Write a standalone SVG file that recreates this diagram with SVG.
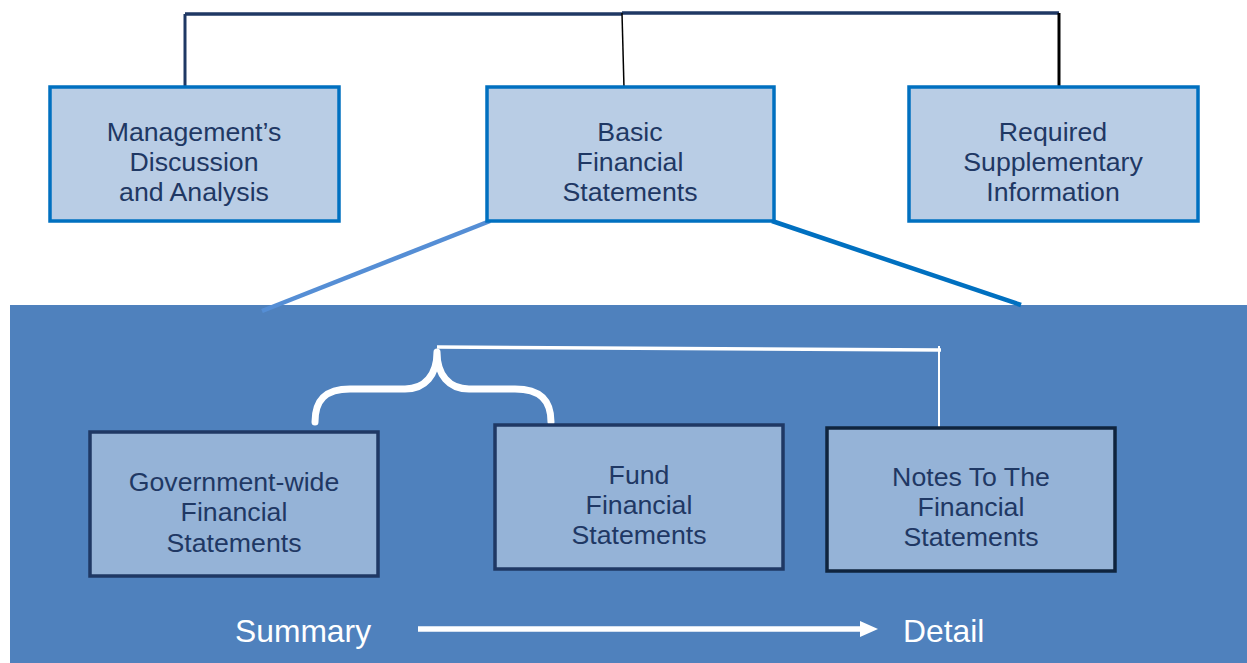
<svg xmlns="http://www.w3.org/2000/svg" width="1247" height="663" viewBox="0 0 1247 663">
<style>
.top rect{fill:#b9cde5;stroke:#0070c0;stroke-width:3.5}
.bot rect{fill:#95b3d7;stroke:#1f3864;stroke-width:3.5}
.t{font-family:"Liberation Sans",Arial,sans-serif;font-size:26.7px;fill:#1f3864;text-anchor:middle}
.w{font-family:"Liberation Sans",Arial,sans-serif;font-size:31.8px;fill:#ffffff}
</style>
<rect x="0" y="0" width="1247" height="663" fill="#ffffff"/>
<rect x="10" y="305" width="1237" height="358" fill="#4f81bd"/>
<g id="connectors" fill="none">
<path d="M185 14 H622 M622 13 H1059" stroke="#1f3864" stroke-width="3.5"/>
<path d="M185 14 V86" stroke="#1f3864" stroke-width="3"/>
<path d="M622 13 L624 88" stroke="#000000" stroke-width="1.5"/>
<path d="M1059 13 V89" stroke="#000000" stroke-width="3"/>
<path d="M490 221 L262 311" stroke="#558ed5" stroke-width="4.5"/>
<path d="M772 221 L1021 305" stroke="#0070c0" stroke-width="4.5"/>
<path d="M315 422 C315 400 325 389 350 389 H405 C425 389 437 375 437 352 C437 375 449 389 469 389 H515 C540 389 551 400 551 422" stroke="#ffffff" stroke-width="7" stroke-linecap="round" stroke-linejoin="round"/>
<path d="M437 347 L941 350" stroke="#ffffff" stroke-width="3.5"/>
<path d="M939 346 V427" stroke="#ffffff" stroke-width="2"/>
<path d="M418 629 H862" stroke="#ffffff" stroke-width="5.5"/>
<path d="M860 621 L878 629 L860 637 Z" fill="#ffffff"/>
</g>
<g id="mda" class="top">
<rect x="50" y="87" width="289" height="134"/>
<text class="t" x="194" y="141">Management’s</text>
<text class="t" x="194" y="171">Discussion</text>
<text class="t" x="194" y="201">and Analysis</text>
</g>
<g id="bfs" class="top">
<rect x="487" y="87" width="287" height="134"/>
<text class="t" x="630" y="141">Basic</text>
<text class="t" x="630" y="171">Financial</text>
<text class="t" x="630" y="201">Statements</text>
</g>
<g id="rsi" class="top">
<rect x="909" y="87" width="289" height="134"/>
<text class="t" x="1053" y="141">Required</text>
<text class="t" x="1053" y="171">Supplementary</text>
<text class="t" x="1053" y="201">Information</text>
</g>
<g id="gov" class="bot">
<rect x="90" y="432" width="288" height="144"/>
<text class="t" x="234" y="491">Government-wide</text>
<text class="t" x="234" y="521">Financial</text>
<text class="t" x="234" y="552">Statements</text>
</g>
<g id="fund" class="bot">
<rect x="495" y="425" width="288" height="144"/>
<text class="t" x="639" y="484">Fund</text>
<text class="t" x="639" y="514">Financial</text>
<text class="t" x="639" y="544">Statements</text>
</g>
<g id="notes" class="bot">
<rect x="827" y="428" width="288" height="143" style="stroke:#0f243e"/>
<text class="t" x="971" y="486">Notes To The</text>
<text class="t" x="971" y="516">Financial</text>
<text class="t" x="971" y="546">Statements</text>
</g>
<g id="labels">
<text class="w" x="235" y="642">Summary</text>
<text class="w" x="903" y="642">Detail</text>
</g>
</svg>
